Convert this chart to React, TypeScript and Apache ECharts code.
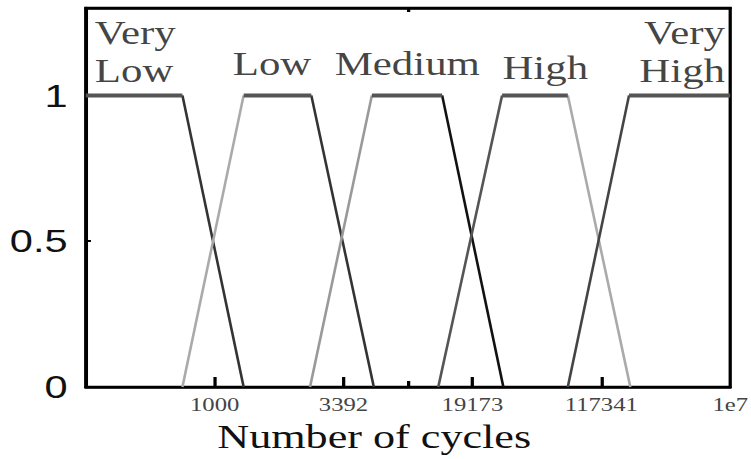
import React, { useEffect, useRef } from "react";
import * as echarts from "echarts";

// membership functions (x in axis units 0..10, y = membership degree)
const mfNames = ["Very\nLow", "Low", "Medium", "High", "Very\nHigh"];
const veryLow = [[0, 1], [1.5, 1], [2.45, 0]];
const low = [[1.5, 0], [2.45, 1], [3.5, 1], [4.47, 0]];
const medium = [[3.48, 0], [4.44, 1], [5.53, 1], [6.48, 0]];
const high = [[5.47, 0], [6.46, 1], [7.48, 1], [8.45, 0]];
const veryHigh = [[7.48, 0], [8.43, 1], [10, 1]];
const mfs = [veryLow, low, medium, high, veryHigh];

// label anchors in data units
const labelX = [0.14, 2.89, 4.99, 7.13, 9.92];
const labelY = [1.02, 1.045, 1.045, 1.031, 1.02];

const xMajorTicks = [2, 4, 6, 8];
const xMinorTicks = [5];
const xLabelValues = [2, 4, 6, 8, 10];
const xLabelTexts = ["1000", "3392", "19173", "117341", "1e7"];
const yLabelValues = [0, 0.5, 1];
const yLabelTexts = ["0", "0.5", "1"];

const riseColors = ["#333", "#aaa", "#999", "#555", "#444"];
const fallColors = ["#333", "#333", "#111", "#aaa", "#333"];
const labelAligns = ["left", "center", "center", "center", "right"];

const STRETCH = 751 / 578;

export default function App() {
  const ref = useRef<HTMLDivElement>(null);
  useEffect(() => {
    if (!ref.current) return;
    const chart = echarts.init(ref.current, null, { renderer: "svg" });
    const series: any[] = [];
    mfs.forEach((pts, i) => {
      for (let j = 0; j < pts.length - 1; j++) {
        const p = pts[j];
        const q = pts[j + 1];
        const kind = q[1] > p[1] ? "rise" : q[1] < p[1] ? "fall" : "flat";
        series.push({
          type: "line",
          data: [p, q],
          symbol: "none",
          silent: true,
          z: kind === "flat" ? 4 : 3,
          lineStyle:
            kind === "flat"
              ? { width: 4, color: "#555" }
              : { width: 2, color: kind === "rise" ? riseColors[i] : fallColors[i] },
        });
      }
    });
    series.push({
      type: "scatter",
      symbolSize: 0,
      z: 5,
      data: mfNames.map((n, i) => ({
        value: [labelX[i], labelY[i]],
        name: n,
        label: { align: labelAligns[i] },
      })),
      label: {
        show: true,
        position: "top",
        distance: 0,
        verticalAlign: "bottom",
        formatter: (p: any) => p.name,
        fontFamily: "Liberation Serif",
        fontSize: 33,
        lineHeight: 38,
        color: "#111",
      },
    });
    const hiddenAxisBase = {
      type: "value",
      min: 0,
      max: 10,
      splitLine: { show: false },
      axisLabel: { show: false },
    };
    chart.setOption({
      animation: false,
      grid: {
        left: 66,
        right: 16,
        top: 8,
        bottom: 72,
        outerBoundsMode: "none",
        containLabel: false,
        show: true,
        borderColor: "#000",
        borderWidth: 2.5,
      },
      xAxis: [
        {
          type: "value",
          min: 0,
          max: 10,
          position: "bottom",
          splitLine: { show: false },
          axisLine: { show: true, lineStyle: { color: "#000", width: 2.5 } },
          axisTick: {
            show: true,
            inside: true,
            length: 10,
            customValues: xMajorTicks,
            lineStyle: { color: "#000", width: 2.5 },
          },
          axisLabel: {
            customValues: xLabelValues,
            formatter: (v: number) => xLabelTexts[xLabelValues.indexOf(v)] ?? "",
            fontFamily: "Liberation Serif",
            fontSize: 19,
            color: "#444",
            margin: 8,
          },
          name: "Number of cycles",
          nameLocation: "middle",
          nameGap: 33,
          nameTextStyle: {
            fontFamily: "Liberation Serif",
            fontSize: 34,
            color: "#111",
            padding: [0, 52, 0, 0],
          },
        },
        {
          ...hiddenAxisBase,
          position: "bottom",
          axisLine: { show: false },
          axisTick: {
            show: true,
            inside: true,
            length: 6,
            customValues: xMinorTicks,
            lineStyle: { color: "#000", width: 2.5 },
          },
        },
        {
          ...hiddenAxisBase,
          position: "top",
          axisLine: { show: true, lineStyle: { color: "#000", width: 2.5 } },
          axisTick: {
            show: true,
            inside: true,
            length: 4,
            customValues: xMinorTicks,
            lineStyle: { color: "#000", width: 2.5 },
          },
        },
      ],
      yAxis: {
        type: "value",
        min: 0,
        max: 1.3,
        splitLine: { show: false },
        axisLine: { show: true, lineStyle: { color: "#000", width: 2.5 } },
        axisTick: {
          show: true,
          inside: true,
          length: 4,
          customValues: yLabelValues,
          lineStyle: { color: "#000", width: 2 },
        },
        axisLabel: {
          customValues: yLabelValues,
          formatter: (v: number) => yLabelTexts[yLabelValues.indexOf(v)] ?? "",
          fontFamily: "Liberation Sans",
          fontSize: 32,
          color: "#111",
          margin: 14,
        },
      },
      series,
    });
    return () => chart.dispose();
  }, []);
  return (
    <div
      ref={ref}
      style={{
        position: "fixed",
        left: 0,
        top: 0,
        width: 578,
        height: 459,
        background: "#fff",
        transform: `scaleX(${STRETCH})`,
        transformOrigin: "0 0",
      }}
    />
  );
}
